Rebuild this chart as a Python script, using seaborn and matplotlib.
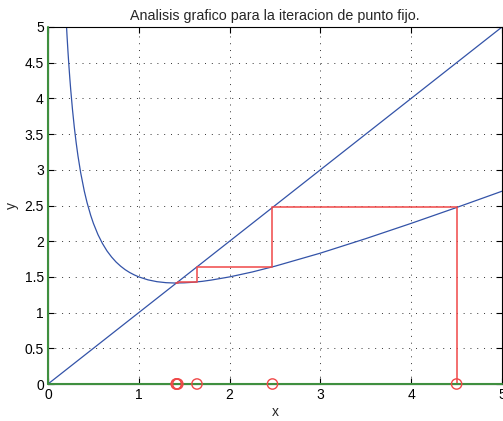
import matplotlib
matplotlib.use("Agg")
import matplotlib.pyplot as plt
import seaborn as sns
import pandas as pd

# curve samples
curve_x = [0.20, 0.21, 0.22, 0.23, 0.24, 0.25, 0.27, 0.29, 0.31, 0.33, 0.36, 0.40,
           0.43, 0.47, 0.50, 0.55, 0.60, 0.65, 0.70, 0.75, 0.80, 0.85, 0.90, 0.95,
           1.00, 1.10, 1.20, 1.30, 1.40, 1.50, 1.60, 1.70, 1.80, 2.00, 2.25, 2.50,
           3.00, 3.50, 4.00, 4.50, 5.00]
curve_y = [5.100, 4.867, 4.655, 4.463, 4.287, 4.125, 3.839, 3.593, 3.381, 3.195,
           2.958, 2.700, 2.541, 2.363, 2.250, 2.093, 1.967, 1.863, 1.779, 1.708,
           1.650, 1.601, 1.561, 1.528, 1.500, 1.459, 1.433, 1.419, 1.414, 1.417,
           1.425, 1.438, 1.456, 1.500, 1.569, 1.650, 1.833, 2.036, 2.250, 2.472,
           2.700]
diag_x = [0, 5]
diag_y = [0, 5]
iterates = [4.5, 2.4722, 1.6406, 1.4298, 1.4143, 1.4142]
axis_x = [0, 5]
axis_y = [0, 0]

title = "Analisis grafico para la iteracion de punto fijo."
xticks = [0, 1, 2, 3, 4, 5]
yticks = [0, 0.5, 1, 1.5, 2, 2.5, 3, 3.5, 4, 4.5, 5]
ytick_labels = ["0", "0.5", "1", "1.5", "2", "2.5", "3", "3.5", "4", "4.5", "5"]

# cobweb path built from the iterates
web_x = [iterates[0], iterates[0]]
web_y = [0, iterates[1]]
for i in range(1, len(iterates) - 1):
    web_x += [iterates[i], iterates[i]]
    web_y += [iterates[i], iterates[i + 1]]
web = pd.DataFrame({"x": web_x, "y": web_y})

sns.set_theme(style="white")
plt.rcParams["font.family"] = ["Liberation Sans", "DejaVu Sans"]

fig = plt.figure(figsize=(5.03, 4.21), dpi=100)
ax = fig.add_axes([48 / 503, 37 / 421, 454 / 503, 357 / 421])

green = "#3f8f3f"
blue = "#3353a8"
red = "#f04848"

sns.lineplot(x=curve_x, y=curve_y, ax=ax, color=blue, lw=0.9, sort=False, estimator=None)
sns.lineplot(x=diag_x, y=diag_y, ax=ax, color=blue, lw=0.9, sort=False, estimator=None)
sns.lineplot(data=web, x="x", y="y", ax=ax, color=red, lw=1.3, sort=False,
             estimator=None, alpha=0.85)
sns.lineplot(x=axis_x, y=axis_y, ax=ax, color=green, lw=1.5, sort=False, estimator=None,
             zorder=4, clip_on=False)
sns.lineplot(x=[0, 0], y=[0, 5], ax=ax, color=green, lw=1.5, sort=False, estimator=None,
             zorder=4, clip_on=False)
sns.scatterplot(x=iterates, y=[0] * len(iterates), ax=ax, marker="o", s=55,
                facecolor="none", edgecolor=red, linewidth=1, zorder=5, clip_on=False)

ax.set_xlim(0, 5)
ax.set_ylim(0, 5)
ax.set_xticks(xticks)
ax.set_yticks(yticks)
ax.set_yticklabels(ytick_labels)
ax.grid(True, color="#333333", linestyle=(0, (1, 6)), linewidth=0.7)
ax.tick_params(direction="in", length=4, width=0.8, colors="black", labelsize=10,
               top=True, right=True, bottom=True, left=True, pad=3)
for s in ax.spines.values():
    s.set_color("black")
    s.set_linewidth(0.8)
ax.set_xlabel("x", fontsize=10, labelpad=2)
ax.set_ylabel("y", fontsize=10, labelpad=4)
ax.set_title(title, fontsize=10.3, pad=5)

fig.savefig("out.png", dpi=100)
